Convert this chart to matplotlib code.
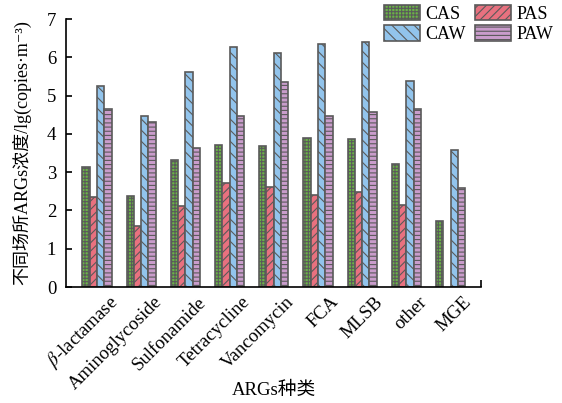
import numpy as np
import matplotlib
matplotlib.use("Agg")
import matplotlib.pyplot as plt
from matplotlib.transforms import ScaledTranslation

plt.rcParams['font.family'] = ['Liberation Serif', 'DejaVu Serif', 'Noto Sans CJK SC']
plt.rcParams['mathtext.fontset'] = 'stix'
plt.rcParams['hatch.linewidth'] = 0.8

categories = [r'$\beta$-lactamase', 'Aminoglycoside', 'Sulfonamide', 'Tetracycline',
              'Vancomycin', 'FCA', 'MLSB', 'other', 'MGE']
series = ['CAS', 'PAS', 'CAW', 'PAW']
cas = [3.14, 2.37, 3.31, 3.72, 3.68, 3.90, 3.87, 3.21, 1.72]
pas = [2.34, 1.60, 2.11, 2.71, 2.62, 2.41, 2.48, 2.13, np.nan]  # no PAS value for MGE
caw = [5.25, 4.46, 5.62, 6.26, 6.12, 6.35, 6.40, 5.39, 3.59]
paw = [4.65, 4.31, 3.64, 4.47, 5.36, 4.47, 4.57, 4.65, 2.58]

colors = ['#6ab446', '#e8717f', '#92c4ec', '#c99ccb']
hatches = ['+++++', '////', '\\\\\\', '----']

fig = plt.figure(figsize=(5.62, 4.03), dpi=100)
ax = fig.add_axes([66 / 562, 1 - 287 / 403, 415 / 562, 268 / 403])

x = np.arange(len(categories))
w = 0.165
bars = {}
for i, (name, vals) in enumerate(zip(series, [cas, pas, caw, paw])):
    vals = np.array(vals, dtype=float)
    ok = ~np.isnan(vals)
    bars[name] = ax.bar(x[ok] + (i - 1.5) * w, vals[ok], width=w, color=colors[i],
                        edgecolor='#5a5a5a', linewidth=1.2, hatch=hatches[i], label=name)

ax.set_xlim(-0.70, len(categories) - 1 + 0.69)
ax.set_ylim(0, 7)
ax.set_yticks(range(8))
ax.set_xticks(x)
ax.set_xticklabels(categories, rotation=45, ha='right', va='center',
                   rotation_mode='anchor', fontsize=13.5)
ax.tick_params(axis='x', length=0, pad=9)
# shift the rotated labels a little to the right of the group centres
shift = ScaledTranslation(18 / 100, 0, fig.dpi_scale_trans)
for lbl in ax.get_xticklabels():
    lbl.set_transform(lbl.get_transform() + shift)
ax.tick_params(axis='y', direction='in', length=4, width=1.2, labelsize=13.5, pad=7)
# small tick at the right end of the x axis
ax.set_xticks([len(categories) - 1 + 0.69], minor=True)
ax.tick_params(axis='x', which='minor', direction='in', length=5, width=1.2)

for s in ['top', 'right']:
    ax.spines[s].set_visible(False)
for s in ['left', 'bottom']:
    ax.spines[s].set_linewidth(1.2)

ax.set_ylabel('不同场所ARGs浓度/lg(copies·m⁻³)', fontsize=13)
ax.yaxis.set_label_coords(-0.085, 0.5)
ax.set_xlabel('ARGs种类', fontsize=13.5)
ax.xaxis.set_label_coords(0.5, -0.355)

# two columns, filled row by row: CAS PAS / CAW PAW
order = ['CAS', 'CAW', 'PAS', 'PAW']
fig.legend([bars[n] for n in order], order, ncol=2, loc='upper left',
           bbox_to_anchor=(380 / 562, 1 - 1 / 403), fontsize=13, frameon=False,
           handlelength=2.0, handleheight=0.95, handletextpad=0.3,
           columnspacing=0.5, labelspacing=0.15, borderaxespad=0, borderpad=0.2)

fig.savefig('out.png', dpi=100)
